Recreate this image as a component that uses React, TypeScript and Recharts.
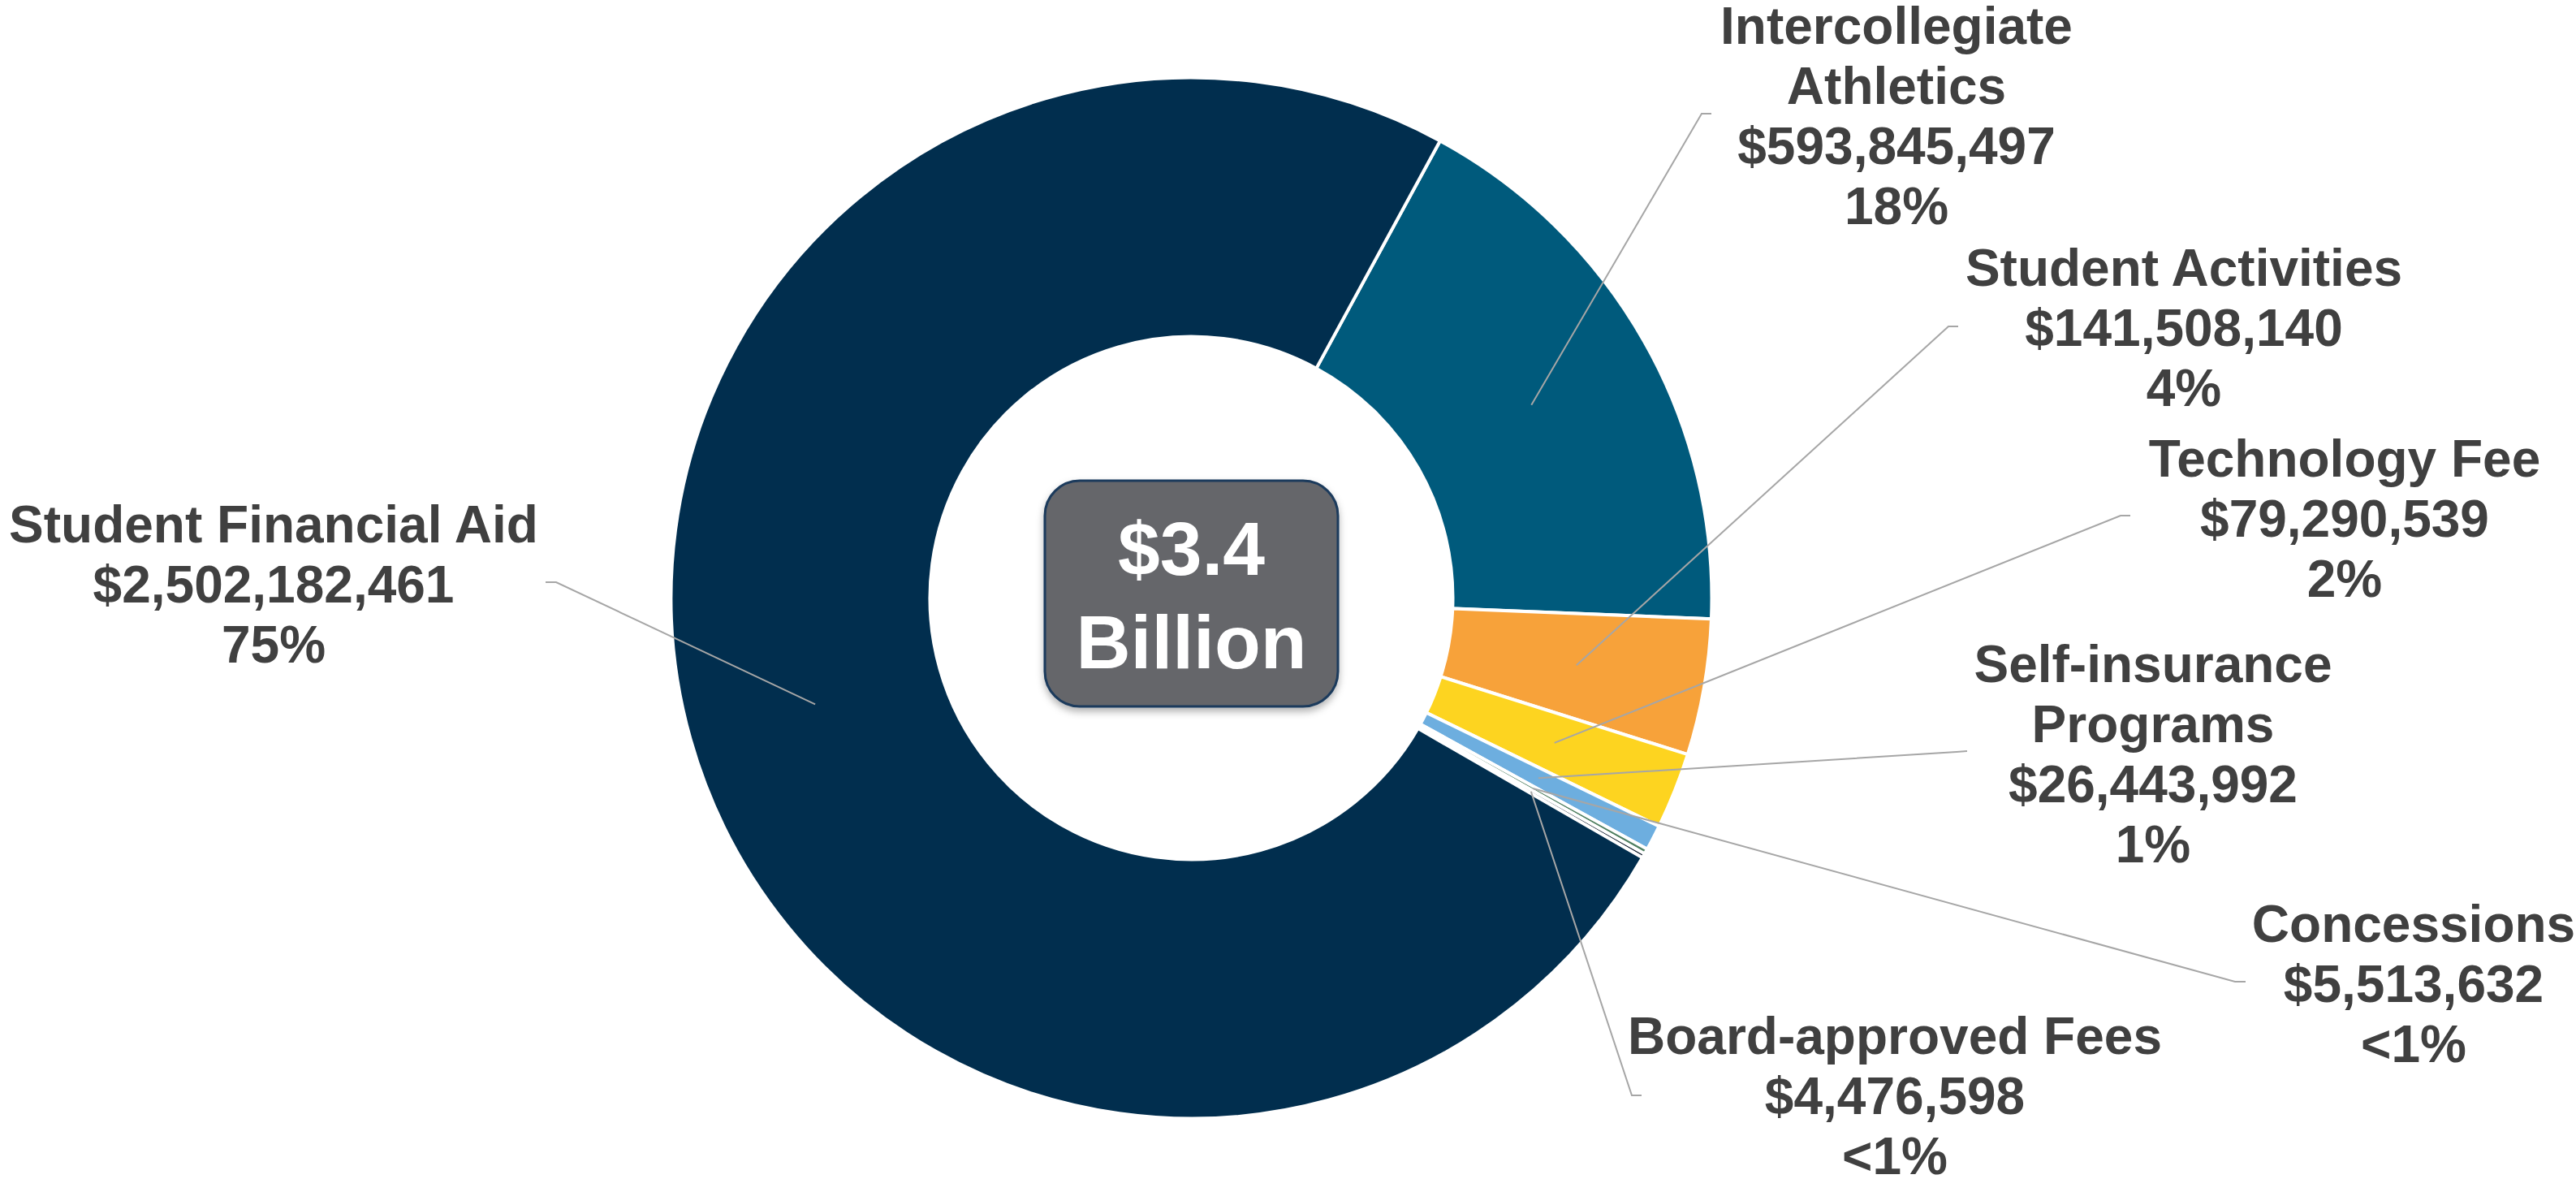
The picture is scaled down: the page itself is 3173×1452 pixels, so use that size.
import React from "react";
import { Cell, Pie, PieChart } from "recharts";

const categories = [
  "Intercollegiate Athletics",
  "Student Activities",
  "Technology Fee",
  "Self-insurance Programs",
  "Concessions",
  "Board-approved Fees",
  "Student Financial Aid",
];
const amounts = [593845497, 141508140, 79290539, 26443992, 5513632, 4476598, 2502182461];
const percentLabels = ["18%", "4%", "2%", "1%", "<1%", "<1%", "75%"];
const nameLines = [
  ["Intercollegiate", "Athletics"],
  ["Student Activities"],
  ["Technology Fee"],
  ["Self-insurance", "Programs"],
  ["Concessions"],
  ["Board-approved Fees"],
  ["Student Financial Aid"],
];
const colors = ["#005A7C", "#F7A23A", "#FDD420", "#6DAEDF", "#4F7F60", "#0E1A2B", "#012E4E"];

const totalLabel = ["$3.4", "Billion"];

// where each label sits (text centre x, first baseline, leader elbow, leader end)
const labelLayout = [
  { x: 2336, y: 54, elbow: [2096, 140], end: [2108, 140] },
  { x: 2690, y: 352, elbow: [2400, 402], end: [2412, 402] },
  { x: 2888, y: 587, elbow: [2612, 635], end: [2624, 635] },
  { x: 2652, y: 840, elbow: [2410, 926], end: [2423, 925] },
  { x: 2973, y: 1160, elbow: [2753, 1209], end: [2766, 1209] },
  { x: 2334, y: 1298, elbow: [2010, 1349], end: [2022, 1349] },
  { x: 337, y: 668, elbow: [685, 717], end: [672, 717] },
];

const W = 3173;
const H = 1452;
const CX = 1467.5;
const CY = 736.5;
const R_IN = 322;
const R_OUT = 641;
const RAD = Math.PI / 180;
const FONT = "'Liberation Sans', Arial, sans-serif";

const data = categories.map((name, i) => ({ name, value: amounts[i] }));

const fmt = (v: number) => "$" + v.toLocaleString("en-US");

const renderLabel = (props: any) => {
  const { cx, cy, midAngle, index } = props;
  const inner = typeof props.innerRadius === "number" ? props.innerRadius : R_IN;
  const outer = typeof props.outerRadius === "number" ? props.outerRadius : R_OUT;
  const r = (inner + outer) / 2;
  const sx = cx + r * Math.cos(-midAngle * RAD);
  const sy = cy + r * Math.sin(-midAngle * RAD);
  const L = labelLayout[index];
  const lines = [...nameLines[index], fmt(amounts[index]), percentLabels[index]];
  return (
    <g key={"lbl-" + index}>
      <polyline
        points={`${sx},${sy} ${L.elbow[0]},${L.elbow[1]} ${L.end[0]},${L.end[1]}`}
        fill="none"
        stroke="#A6A6A6"
        strokeWidth={2}
      />
      <text
        textAnchor="middle"
        fill="#404040"
        fontFamily={FONT}
        fontWeight="bold"
        fontSize={64}
      >
        {lines.map((t, i) => (
          <tspan key={i} x={L.x} y={L.y + i * 74}>
            {t}
          </tspan>
        ))}
      </text>
    </g>
  );
};

const App = () => {
  return (
    <div style={{ position: "absolute", left: 0, top: 0, width: W, height: H, background: "#fff" }}>
      <PieChart width={W} height={H} margin={{ top: 0, right: 0, bottom: 0, left: 0 }}>
        <Pie
          data={data}
          dataKey="value"
          nameKey="name"
          cx={CX}
          cy={CY}
          innerRadius={R_IN}
          outerRadius={R_OUT}
          startAngle={61.45}
          endAngle={-298.55}
          stroke="#ffffff"
          strokeWidth={4}
          label={renderLabel}
          labelLine={false}
          isAnimationActive={false}
        >
          {data.map((d, i) => (
            <Cell key={d.name} fill={colors[i]} />
          ))}
        </Pie>
      </PieChart>
      <svg
        width={W}
        height={H}
        style={{ position: "absolute", left: 0, top: 0, pointerEvents: "none" }}
      >
        <defs>
          <filter id="boxShadow" x="-20%" y="-20%" width="140%" height="140%">
            <feDropShadow dx="0" dy="5" stdDeviation="5" floodColor="#000" floodOpacity="0.3" />
          </filter>
        </defs>
        <rect
          x={1287}
          y={592}
          width={361}
          height={278}
          rx={43}
          fill="#65666B"
          stroke="#1B3A5C"
          strokeWidth={3}
          filter="url(#boxShadow)"
        />
        <text textAnchor="middle" fill="#ffffff" fontFamily={FONT} fontWeight="bold" fontSize={93}>
          <tspan x={CX} y={708}>
            {totalLabel[0]}
          </tspan>
          <tspan x={CX} y={823}>
            {totalLabel[1]}
          </tspan>
        </text>
      </svg>
    </div>
  );
};

export default App;
